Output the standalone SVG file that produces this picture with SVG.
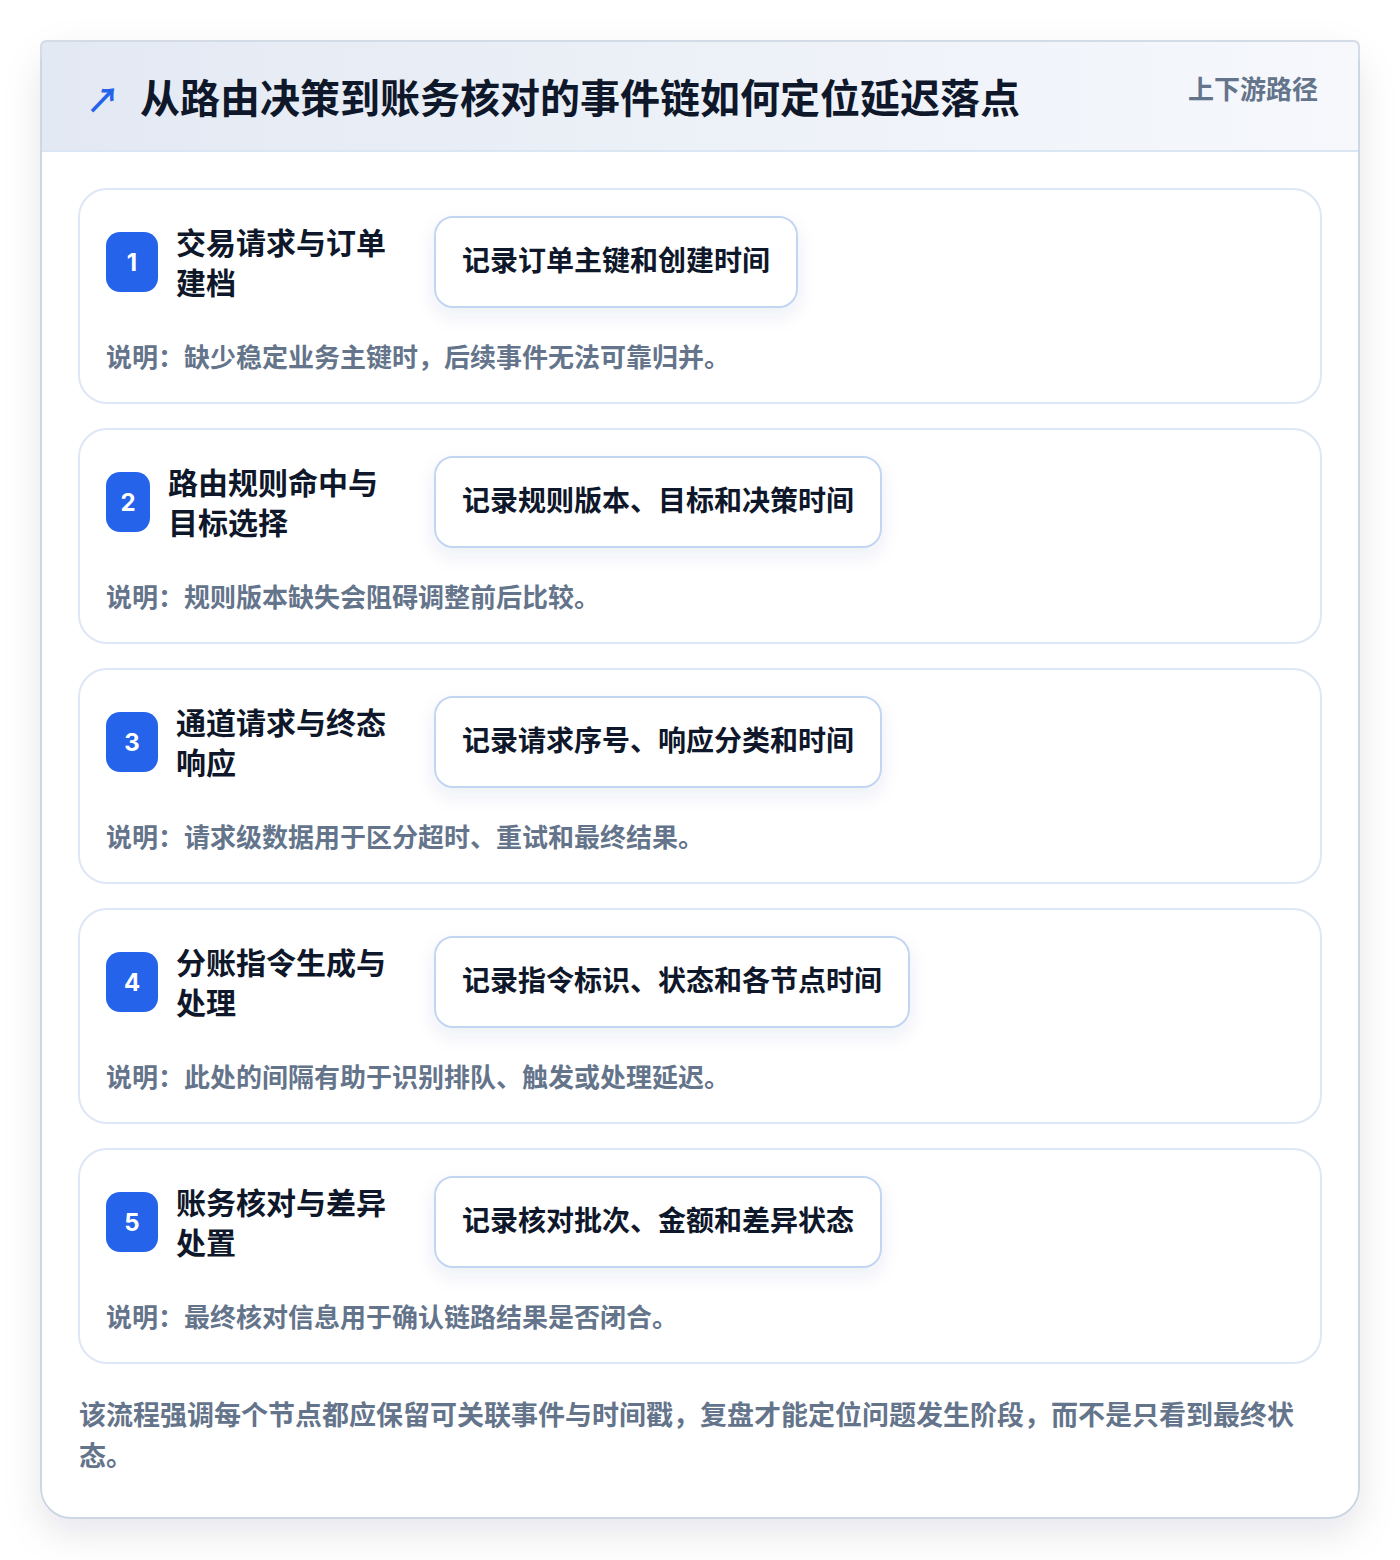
<svg xmlns="http://www.w3.org/2000/svg" width="1400" height="1560" viewBox="0 0 1400 1560">
<defs>
<style>
.t{font-family:"Noto Sans CJK SC","Noto Sans",sans-serif;font-weight:700}
.h1{font-size:40px;fill:#0f172a}
.side{font-size:26px;fill:#64748b}
.ttl{font-size:30px;fill:#0f172a}
.tag{font-size:28px;fill:#0f172a}
.desc{font-size:26px;fill:#64748b}
.foot{font-size:27px;fill:#64748b}
.num{font-size:24px;fill:#ffffff;font-family:"Inter","Noto Sans",sans-serif;font-weight:700}
.card{fill:#ffffff;stroke:#dde7f5;stroke-width:2}
.box{fill:#ffffff;stroke:#c3d6f1;stroke-width:2}
.badge{fill:#2563eb}
</style>
<linearGradient id="hg" x1="0" y1="0" x2="1" y2="0">
<stop offset="0" stop-color="#e3e9f3"/>
<stop offset="1" stop-color="#f6f8fc"/>
</linearGradient>
<filter id="sh" x="-10%" y="-10%" width="120%" height="120%">
<feDropShadow dx="0" dy="14" stdDeviation="18" flood-color="#0f172a" flood-opacity="0.10"/>
</filter>
<filter id="bs" x="-20%" y="-40%" width="140%" height="200%">
<feDropShadow dx="0" dy="8" stdDeviation="9" flood-color="#1e3a8a" flood-opacity="0.08"/>
</filter>
</defs>
<rect x="0" y="0" width="1400" height="1560" fill="#ffffff"/>
<g id="frame">
<rect x="41" y="41" width="1318" height="1477" rx="30" fill="#ffffff" stroke="#cdd6e3" stroke-width="2" filter="url(#sh)"/>
<path d="M47 41 H1353 Q1359 41 1359 47 V151 H41 V47 Q41 41 47 41 Z" fill="url(#hg)"/>
<path d="M41 151 V47 Q41 41 47 41 H1353 Q1359 41 1359 47 V151" fill="none" stroke="#d3dbe7" stroke-width="2"/>
<line x1="41" y1="151" x2="1359" y2="151" stroke="#dbe6f5" stroke-width="2"/>
<path d="M1359 60 V1488" stroke="#cdd6e3" stroke-width="2" fill="none"/>
<path d="M41 60 V1488" stroke="#cdd6e3" stroke-width="2" fill="none"/>
</g>
<g id="header">
<text class="t" x="86" y="113" font-size="34" fill="#2563eb" font-family="DejaVu Sans">↗</text>
<text class="t h1" x="140" y="113">从路由决策到账务核对的事件链如何定位延迟落点</text>
<text class="t side" x="1318" y="99" text-anchor="end">上下游路径</text>
</g>
<g id="connectors"></g>
<g id="step1">
<rect class="card" x="79" y="189" width="1242" height="214" rx="28"/>
<rect class="badge" x="106" y="232" width="52" height="60" rx="14"/>
<text class="num" x="132" y="271" text-anchor="middle">1</text>
<text class="t ttl" x="176" y="254">交易请求与订单</text>
<text class="t ttl" x="176" y="294">建档</text>
<rect class="box" x="435" y="217" width="362" height="90" rx="18" filter="url(#bs)"/>
<text class="t tag" x="462" y="271">记录订单主键和创建时间</text>
<text class="t desc" x="106" y="367">说明：缺少稳定业务主键时，后续事件无法可靠归并。</text>
</g>
<g id="step2">
<rect class="card" x="79" y="429" width="1242" height="214" rx="28"/>
<rect class="badge" x="106" y="472" width="44" height="60" rx="14"/>
<text class="num" x="128" y="511" text-anchor="middle">2</text>
<text class="t ttl" x="168" y="494">路由规则命中与</text>
<text class="t ttl" x="168" y="534">目标选择</text>
<rect class="box" x="435" y="457" width="446" height="90" rx="18" filter="url(#bs)"/>
<text class="t tag" x="462" y="511">记录规则版本、目标和决策时间</text>
<text class="t desc" x="106" y="607">说明：规则版本缺失会阻碍调整前后比较。</text>
</g>
<g id="step3">
<rect class="card" x="79" y="669" width="1242" height="214" rx="28"/>
<rect class="badge" x="106" y="712" width="52" height="60" rx="14"/>
<text class="num" x="132" y="751" text-anchor="middle">3</text>
<text class="t ttl" x="176" y="734">通道请求与终态</text>
<text class="t ttl" x="176" y="774">响应</text>
<rect class="box" x="435" y="697" width="446" height="90" rx="18" filter="url(#bs)"/>
<text class="t tag" x="462" y="751">记录请求序号、响应分类和时间</text>
<text class="t desc" x="106" y="847">说明：请求级数据用于区分超时、重试和最终结果。</text>
</g>
<g id="step4">
<rect class="card" x="79" y="909" width="1242" height="214" rx="28"/>
<rect class="badge" x="106" y="952" width="52" height="60" rx="14"/>
<text class="num" x="132" y="991" text-anchor="middle">4</text>
<text class="t ttl" x="176" y="974">分账指令生成与</text>
<text class="t ttl" x="176" y="1014">处理</text>
<rect class="box" x="435" y="937" width="474" height="90" rx="18" filter="url(#bs)"/>
<text class="t tag" x="462" y="991">记录指令标识、状态和各节点时间</text>
<text class="t desc" x="106" y="1087">说明：此处的间隔有助于识别排队、触发或处理延迟。</text>
</g>
<g id="step5">
<rect class="card" x="79" y="1149" width="1242" height="214" rx="28"/>
<rect class="badge" x="106" y="1192" width="52" height="60" rx="14"/>
<text class="num" x="132" y="1231" text-anchor="middle">5</text>
<text class="t ttl" x="176" y="1214">账务核对与差异</text>
<text class="t ttl" x="176" y="1254">处置</text>
<rect class="box" x="435" y="1177" width="446" height="90" rx="18" filter="url(#bs)"/>
<text class="t tag" x="462" y="1231">记录核对批次、金额和差异状态</text>
<text class="t desc" x="106" y="1327">说明：最终核对信息用于确认链路结果是否闭合。</text>
</g>
<g id="footer">
<text class="t foot" x="79" y="1425">该流程强调每个节点都应保留可关联事件与时间戳，复盘才能定位问题发生阶段，而不是只看到最终状</text>
<text class="t foot" x="79" y="1466">态。</text>
</g>
</svg>
